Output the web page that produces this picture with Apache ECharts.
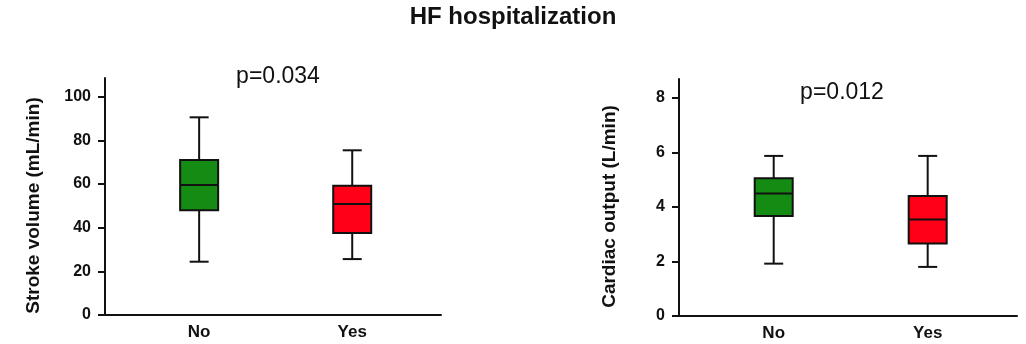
<!DOCTYPE html>
<html>
<head>
<meta charset="utf-8">
<script src="https://cdn.jsdelivr.net/npm/echarts@6/dist/echarts.min.js"></script>
<style>
html,body{margin:0;padding:0;background:#fff;}
#chart{width:1026px;height:344px;}
</style>
</head>
<body>
<div id="chart"></div>
<script>
// ---- data ----
var categories = ['No', 'Yes'];
// [min, Q1, median, Q3, max]
var strokeVolume = [
  [24.4, 48.0, 59.5, 71.0, 90.5],
  [25.6, 37.5, 50.8, 59.2, 75.4]
];
var cardiacOutput = [
  [1.92, 3.67, 4.49, 5.05, 5.87],
  [1.80, 2.66, 3.54, 4.40, 5.87]
];
var boxColors = ['#148C14', '#FF0016'];
var svTicks = [0, 20, 40, 60, 80, 100];
var coTicks = [0, 2, 4, 6, 8];
var pValues = ['p=0.034', 'p=0.012'];
var titleText = 'HF hospitalization';
var yNames = ['Stroke volume (mL/min)', 'Cardiac output (L/min)'];

// ---- build ----
function toRows(stats) {
  return stats.map(function (s, i) { return [i].concat(s); });
}
var FONT = '"Liberation Sans", Arial, sans-serif';

function renderBox(params, api) {
  var i = api.value(0);
  var vMin = api.value(1), q1 = api.value(2), med = api.value(3), q3 = api.value(4), vMax = api.value(5);
  var pMin = api.coord([i, vMin]), pQ1 = api.coord([i, q1]), pMed = api.coord([i, med]),
      pQ3 = api.coord([i, q3]), pMax = api.coord([i, vMax]);
  var cx = pMed[0];
  var bw = 38, cw = 19;
  var lineStyle = { stroke: '#111', lineWidth: 2 };
  return {
    type: 'group',
    children: [
      { type: 'line', shape: { x1: cx, y1: pMin[1], x2: cx, y2: pQ1[1] }, style: lineStyle },
      { type: 'line', shape: { x1: cx, y1: pQ3[1], x2: cx, y2: pMax[1] }, style: lineStyle },
      { type: 'line', shape: { x1: cx - cw / 2, y1: pMin[1], x2: cx + cw / 2, y2: pMin[1] }, style: lineStyle },
      { type: 'line', shape: { x1: cx - cw / 2, y1: pMax[1], x2: cx + cw / 2, y2: pMax[1] }, style: lineStyle },
      { type: 'rect', shape: { x: cx - bw / 2, y: pQ3[1], width: bw, height: pQ1[1] - pQ3[1] },
        style: { fill: boxColors[i], stroke: '#111', lineWidth: 2 } },
      { type: 'line', shape: { x1: cx - bw / 2, y1: pMed[1], x2: cx + bw / 2, y2: pMed[1] }, style: lineStyle }
    ]
  };
}

function xAxisOpt(gridIndex) {
  return {
    type: 'value', gridIndex: gridIndex, min: -0.615, max: 1.58,
    axisLine: { show: true, onZero: false, lineStyle: { color: '#111', width: 2 } },
    axisTick: { show: false },
    splitLine: { show: false },
    axisLabel: {
      customValues: [0, 1],
      formatter: function (v) { return categories[Math.round(v)]; },
      color: '#111', fontFamily: FONT, fontWeight: 'bold', fontSize: 17, margin: 9
    }
  };
}
function yAxisOpt(gridIndex, max, ticks, name, gap) {
  return {
    type: 'value', gridIndex: gridIndex, min: 0, max: max,
    name: name, nameLocation: 'middle', nameGap: gap,
    nameTextStyle: { color: '#111', fontFamily: FONT, fontWeight: 'bold', fontSize: 19, padding: [0, 18, 0, 0] },
    axisLine: { show: true, onZero: false, lineStyle: { color: '#111', width: 2 } },
    axisTick: { show: true, length: 7, customValues: ticks, lineStyle: { color: '#111', width: 2 } },
    splitLine: { show: false },
    axisLabel: { customValues: ticks, color: '#111', fontFamily: FONT, fontWeight: 'bold', fontSize: 16, margin: 14 }
  };
}

var chart = echarts.init(document.getElementById('chart'), null, { renderer: 'canvas' });
chart.setOption({
  animation: false,
  backgroundColor: '#fff',
  grid: [
    { left: 105, right: 585, top: 78, bottom: 29 },
    { left: 679, right: 9, top: 79, bottom: 28 }
  ],
  xAxis: [xAxisOpt(0), xAxisOpt(1)],
  yAxis: [
    yAxisOpt(0, 108.5, svTicks, yNames[0], 62),
    yAxisOpt(1, 8.69, coTicks, yNames[1], 60)
  ],
  graphic: [
    { type: 'text', left: 'center', top: 5,
      style: { text: titleText, fill: '#111', font: 'bold 24px ' + FONT } },
    { type: 'text', x: 278, y: 77,
      style: { text: pValues[0], fill: '#111', font: '23px ' + FONT, align: 'center', verticalAlign: 'middle' } },
    { type: 'text', x: 842, y: 93,
      style: { text: pValues[1], fill: '#111', font: '23px ' + FONT, align: 'center', verticalAlign: 'middle' } }
  ],
  series: [
    { type: 'custom', xAxisIndex: 0, yAxisIndex: 0, renderItem: renderBox,
      encode: { x: 0, y: [1, 2, 3, 4, 5] }, data: toRows(strokeVolume) },
    { type: 'custom', xAxisIndex: 1, yAxisIndex: 1, renderItem: renderBox,
      encode: { x: 0, y: [1, 2, 3, 4, 5] }, data: toRows(cardiacOutput) }
  ]
});
</script>
</body>
</html>
